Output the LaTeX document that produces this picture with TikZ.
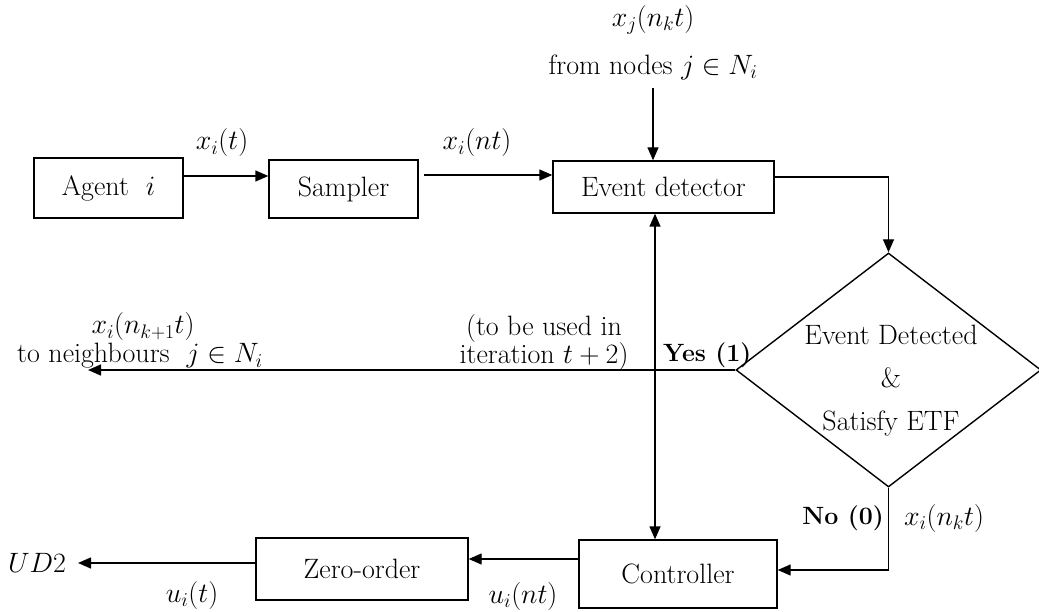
\RequirePackage{fix-cm}
\documentclass[tikz,border=0pt]{standalone}
\usetikzlibrary{shapes.geometric,arrows.meta}
\begin{document}
\begin{tikzpicture}[x=1pt,y=-1pt,font=\fontsize{28}{33}\selectfont,
  box/.style={draw,line width=1.4pt,inner sep=0pt},
  conn/.style={line width=1.4pt},
  arr/.style={conn,-{Triangle[length=13pt,width=11pt]}},
  darr/.style={conn,{Triangle[length=13pt,width=11pt]}-{Triangle[length=13pt,width=11pt]}},
  lbl/.style={inner sep=0pt}]
\useasboundingbox (0,0) rectangle (1039,612);
% blocks
\node[box,minimum width=149pt,minimum height=60pt] (agent) at (108.5,188) {Agent~~$i$};
\node[box,minimum width=149pt,minimum height=58pt] (sampler) at (343.5,189) {Sampler};
\node[box,minimum width=221pt,minimum height=52pt] (detector) at (663.5,187) {Event detector};
\node[draw,diamond,line width=1.4pt,minimum width=305pt,minimum height=234pt,inner sep=0pt] (dec) at (888.5,370) {};
\node[lbl,align=center,font=\fontsize{28}{43}\selectfont] (dectext) at (891,381) {Event Detected\\\&\\Satisfy ETF};
\node[box,minimum width=198pt,minimum height=68pt] (ctrl) at (678,574) {Controller};
\node[box,minimum width=212pt,minimum height=62pt] (zoh) at (362,569) {Zero-order};
% free ends
\coordinate (src) at (653,88);
\coordinate (vx) at (655,0);
\coordinate (nbr) at (88,0);
\coordinate (ud2end) at (78,0);
% connectors
\draw[arr] ([yshift=12pt]agent.east) -- ([yshift=12pt]agent.east -| sampler.west);
\draw[arr] ([xshift=5pt,yshift=14pt]sampler.east) -- ([yshift=14pt]sampler.east -| detector.west);
\draw[arr] ([yshift=10pt]detector.east) -| (dec.north);
\draw[arr] (src) -- (src |- detector.north);
\draw[darr] (detector.south -| vx) -- (ctrl.north -| vx);
\draw[arr] (dec.west) -- (dec.west -| nbr);
\draw[arr] (dec.south) |- ([yshift=4pt]ctrl.east);
\draw[arr] ([yshift=15pt]ctrl.west) -- ([yshift=15pt]ctrl.west -| zoh.east);
\draw[arr] ([yshift=6pt]zoh.west) -- ([yshift=6pt]zoh.west -| ud2end);
% labels
\node[lbl] (l1) at (222,143) {$x_i(t)$};
\node[lbl] (l2) at (477,143) {$x_i(nt)$};
\node[lbl] (l3) at (653,20) {$x_j(n_kt)$};
\node[lbl] (l4) at (653,67) {from nodes~$j\in N_i$};
\node[lbl] (l5) at (143,327) {$x_i(n_{k+1}t)$};
\node[lbl] (l6) at (140,356) {to neighbours~~$j\in N_i$};
\node[lbl] (l7) at (544,329) {(to be used in};
\node[lbl] (l8) at (544,357) {iteration~$t+2$)};
\node[lbl,anchor=west,font=\fontsize{25}{30}\selectfont] (l9) at (663,355) {\textbf{Yes (1)}};
\node[lbl,anchor=east,font=\fontsize{25}{30}\selectfont] (l10) at (884,518) {\textbf{No (0)}};
\node[lbl] (l11) at (944,518) {$x_i(n_kt)$};
\node[lbl] (l12) at (192,595) {$u_i(t)$};
\node[lbl] (l13) at (523,596) {$u_i(nt)$};
\node[lbl] (l14) at (37,563) {$UD2$};
\end{tikzpicture}
\end{document}
